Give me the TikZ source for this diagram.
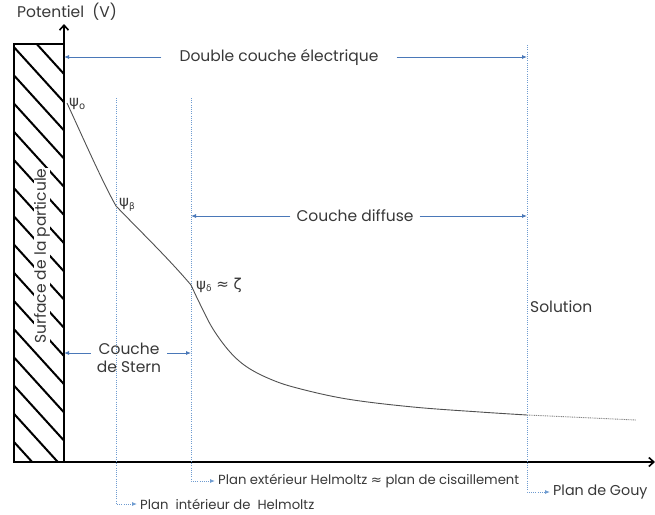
\documentclass[tikz,border=0pt]{standalone}
\usepackage{fontspec}
\setmainfont{Poppins}
\newfontfamily\grk{DejaVu Sans}
\usetikzlibrary{arrows.meta,calc}
\definecolor{txt}{HTML}{383838}
\definecolor{arr}{HTML}{4A78B8}
\definecolor{dotc}{HTML}{6E9BD0}
\definecolor{crv}{HTML}{505050}
\begin{document}
\begin{tikzpicture}[x=1pt,y=-1pt,
  lbl/.style={text=txt,font=\fontsize{15.5}{18}\selectfont,inner sep=0pt},
  plbl/.style={text=txt,font=\fontsize{13.2}{16}\selectfont,inner sep=0pt,anchor=west},
  psl/.style={text=txt,inner sep=0pt,anchor=west,font=\grk\fontsize{15}{17}\selectfont},
  dim/.style={draw=arr,line width=0.8pt,-{Latex[length=5pt,width=4pt]}},
  plan/.style={draw=dotc,line width=0.9pt,dash pattern=on 1pt off 1.2pt},
  planarr/.style={plan,-{Latex[length=5pt,width=4pt]}},
  hatch/.style={line width=2pt,black},
  axis/.style={line width=1.6pt,black,-{Straight Barb[length=5pt,width=9pt]}}]
\useasboundingbox (0,0) rectangle (655,514);
% hatching
\begin{scope}
  \clip (14,44) rectangle (64,462);
  \foreach \k in {0,...,16}{
    \draw[hatch] (14,19+28.2*\k) -- (64,74+28.2*\k);
  }
\end{scope}
\node[rotate=90,fill=white,inner xsep=8pt,inner ysep=2pt,lbl] (surf) at (42,256) {Surface de la particule};
\draw[line width=2.2pt] (14,44) rectangle (64,462);
% axes
\coordinate (O) at (64,462);
\coordinate (xl) at (14,462);
\coordinate (ytop) at (64,24);
\coordinate (xend) at (655,462);
\draw[axis] (O) -- (ytop);
\draw[axis] (xl) -- (xend);
\node[lbl,anchor=west] (pot) at (17,12) {Potentiel\ \ (V)};
% planes
\coordinate (pihT) at (116,98);
\coordinate (pehT) at (191,98);
\coordinate (gouyT) at (527,45);
\node[plbl] (pih) at (140,504) {Plan\ \ intérieur de\ \ Helmoltz};
\node[plbl] (peh) at (218,481) {Plan extérieur Helmoltz {\grk≈} plan de cisaillement};
\node[plbl,font=\fontsize{14.3}{17}\selectfont] (gouy) at (553,492) {Plan de Gouy};
\draw[planarr] (pihT) |- ([xshift=-3pt]pih.west);
\draw[planarr] (pehT) |- ([xshift=-3pt]peh.west);
\draw[planarr] (gouyT) |- ([xshift=-3pt]gouy.west);
% dimension arrows
\node[lbl] (dce) at (279,57) {Double couche électrique};
\coordinate (dceL) at (64,57);
\coordinate (dceR) at (527,57);
\draw[dim] ([xshift=-18pt]dce.west) -- (dceL);
\draw[dim] ([xshift=18pt]dce.east) -- (dceR);
\node[lbl] (cd) at (355,216) {Couche diffuse};
\coordinate (cdL) at (191,216);
\coordinate (cdR) at (527,216);
\draw[dim] ([xshift=-6pt]cd.west) -- (cdL);
\draw[dim] ([xshift=6pt]cd.east) -- (cdR);
\node[lbl,align=center] (stern) at (129,358) {Couche\\de Stern};
\coordinate (stL) at (64,353);
\coordinate (stR) at (191,353);
\draw[dim] (stern.west |- stL) ++(-6,0) -- (stL);
\draw[dim] (stern.east |- stR) ++(6,0) -- (stR);
\node[lbl,anchor=west] (sol) at (530,307) {Solution};
% curve
\coordinate (p0) at (67,103);
\coordinate (pb) at (116,206);
\coordinate (pd) at (191,285);
\coordinate (pg) at (527,415);
\coordinate (pend) at (636,420);
\draw[crv,line width=0.9pt] (p0) .. controls (84,140) and (103,183) .. (pb)
  .. controls (142,233) and (168,258) .. (pd);
\draw[crv,line width=0.9pt] plot[smooth,tension=0.6] coordinates {(191,285) (200,304) (213,329) (230,352) (247,367) (270,379) (297,388) (347,399) (413,407) (480,412) (527,415)};
\draw[crv!70,line width=0.9pt,dash pattern=on 1pt off 0.8pt] (pg) -- (pend);
% psi labels
\node[psl] (l0) at (69,104) {ψ\raisebox{-0.35ex}{\fontsize{10}{11}\selectfont o}};
\node[psl] (lb) at (119,205) {ψ\raisebox{-0.35ex}{\fontsize{9}{10}\selectfont β}};
\node[psl] (ld) at (196,285) {ψ\raisebox{-0.35ex}{\fontsize{9}{10}\selectfont δ} ≈ ζ};
\end{tikzpicture}
\end{document}
